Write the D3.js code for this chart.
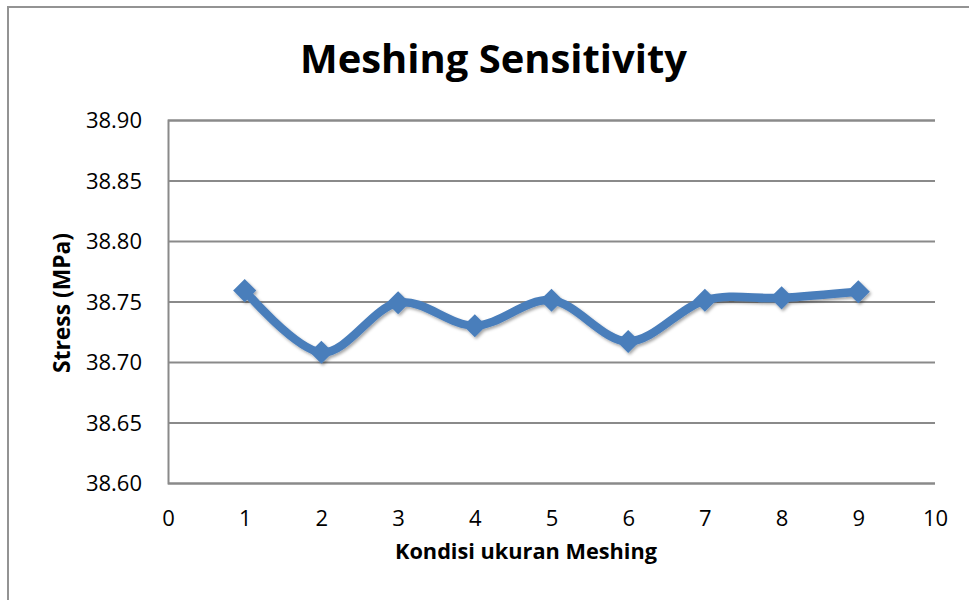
<!DOCTYPE html>
<html>
<head>
<meta charset="utf-8">
<script src="https://cdn.jsdelivr.net/npm/d3@7"></script>
<style>
  html, body { margin: 0; padding: 0; background: #fff; }
  svg { display: block; }
  text { font-family: "Open Sans", "Noto Sans", sans-serif; fill: #000; }
</style>
</head>
<body>
<svg id="chart" width="969" height="600"></svg>
<script>
// Stress result for each mesh size condition
const meshCondition = [1, 2, 3, 4, 5, 6, 7, 8, 9];
const stressMPa = [38.759, 38.708, 38.749, 38.730, 38.751, 38.717, 38.751, 38.753, 38.758];
const xTicks = [0, 1, 2, 3, 4, 5, 6, 7, 8, 9, 10];
const yTicks = [38.60, 38.65, 38.70, 38.75, 38.80, 38.85, 38.90];

const svg = d3.select("#chart");
const W = 969, H = 600;
const plot = { left: 168, right: 935, top: 120, bottom: 483 };
const blue = "#4A7EBB";
const grid = "#8a8a8a";

svg.append("rect").attr("width", W).attr("height", H).attr("fill", "#fff");

// chart frame
svg.append("rect")
  .attr("x", 8).attr("y", 7)
  .attr("width", 1000).attr("height", 700)
  .attr("fill", "none").attr("stroke", "#939393").attr("stroke-width", 2);

const defs = svg.append("defs");
const f = defs.append("filter").attr("id", "shadow")
  .attr("x", "-20%").attr("y", "-50%").attr("width", "140%").attr("height", "200%");
f.append("feDropShadow")
  .attr("dx", 1.5).attr("dy", 2).attr("stdDeviation", 1.6)
  .attr("flood-color", "#000").attr("flood-opacity", 0.35);

const x = d3.scaleLinear().domain([0, 10]).range([plot.left, plot.right]);
const y = d3.scaleLinear().domain([38.60, 38.90]).range([plot.bottom, plot.top]);

// horizontal gridlines and y labels
const yAxis = d3.axisLeft(y).tickValues(yTicks)
  .tickSize(-(plot.right - plot.left)).tickPadding(26)
  .tickFormat(d3.format(".2f"));
const gy = svg.append("g").attr("transform", `translate(${plot.left},0)`).call(yAxis);
gy.select(".domain").attr("stroke", grid).attr("stroke-width", 2);
gy.selectAll(".tick line").attr("stroke", grid).attr("stroke-width", 2);
gy.selectAll(".tick text")
  .attr("font-size", 22).attr("font-family", "Open Sans, sans-serif")
  .attr("fill", "#000").attr("dy", "0.36em");

// x labels (no tick marks)
const xAxis = d3.axisBottom(x).tickValues(xTicks).tickSize(0).tickPadding(0)
  .tickFormat(d3.format("d"));
const gx = svg.append("g").attr("transform", `translate(0,${plot.bottom})`).call(xAxis);
gx.select(".domain").remove();
gx.selectAll(".tick text")
  .attr("font-size", 22).attr("font-family", "Open Sans, sans-serif")
  .attr("fill", "#000").attr("y", 43).attr("dy", 0);

// smoothed series with diamond markers
const data = meshCondition.map((c, i) => ({ c, v: stressMPa[i] }));
const line = d3.line().x(d => x(d.c)).y(d => y(d.v)).curve(d3.curveCardinal.tension(0));
const series = svg.append("g").attr("filter", "url(#shadow)");
series.append("path").datum(data)
  .attr("d", line).attr("fill", "none")
  .attr("stroke", blue).attr("stroke-width", 8.5)
  .attr("stroke-linejoin", "round").attr("stroke-linecap", "round");
series.selectAll("path.marker").data(data).join("path")
  .attr("class", "marker")
  .attr("d", d3.symbol().type(d3.symbolDiamond2).size(340))
  .attr("transform", d => `translate(${x(d.c)},${y(d.v)})`)
  .attr("fill", blue);

// titles
svg.append("text")
  .attr("x", 493.5).attr("y", 73).attr("text-anchor", "middle")
  .attr("font-size", 40).attr("font-weight", 700)
  .attr("textLength", 387).attr("lengthAdjust", "spacingAndGlyphs")
  .text("Meshing Sensitivity");

svg.append("text")
  .attr("x", 526).attr("y", 559).attr("text-anchor", "middle")
  .attr("font-size", 22).attr("font-weight", 700)
  .attr("textLength", 262).attr("lengthAdjust", "spacingAndGlyphs")
  .text("Kondisi ukuran Meshing");

svg.append("text")
  .attr("transform", "translate(70,303) rotate(-90)")
  .attr("text-anchor", "middle")
  .attr("font-size", 23).attr("font-weight", 700)
  .attr("textLength", 140).attr("lengthAdjust", "spacingAndGlyphs")
  .text("Stress (MPa)");
</script>
</body>
</html>
